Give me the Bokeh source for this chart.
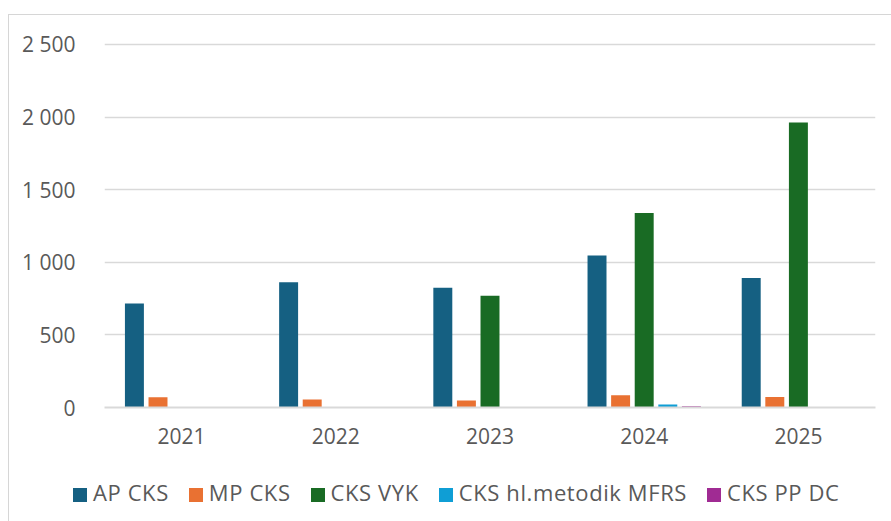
from bokeh.plotting import figure
from bokeh.layouts import column
from bokeh.models import (FactorRange, Range1d, FixedTicker, ColumnDataSource, Div)
from bokeh.transform import dodge
from bokeh.embed import file_html
from bokeh.resources import INLINE

years = ["2021", "2022", "2023", "2024", "2025"]
series_names = ["AP CKS", "MP CKS", "CKS VYK", "CKS hl.metodik MFRS", "CKS PP DC"]
ap_cks = [716, 862, 825, 1047, 892]
mp_cks = [71, 55, 48, 84, 73]
cks_vyk = [0, 0, 769, 1340, 1963]
cks_hl = [0, 0, 0, 21, 0]
cks_pp = [0, 0, 0, 9, 0]
colors = ["#156082", "#E97132", "#196B24", "#0F9ED5", "#A02B93"]
y_ticks = [0, 500, 1000, 1500, 2000, 2500]
y_tick_labels = ["0", "500", "1 000", "1 500", "2 000", "2 500"]

FONT = "Open Sans"
TXT = "#595959"

src = ColumnDataSource(dict(year=years, s0=ap_cks, s1=mp_cks, s2=cks_vyk, s3=cks_hl, s4=cks_pp))

p = figure(width=882, height=435, x_range=FactorRange(factors=years),
           y_range=Range1d(0, 2527.5), output_backend="svg", toolbar_location=None,
           min_border_left=95, min_border_right=16, min_border_top=25, min_border_bottom=43)
p.outline_line_color = None
p.background_fill_color = "white"
p.border_fill_color = "white"

step = 0.153
bw = 0.123
for i, name in enumerate(series_names):
    p.vbar(x=dodge("year", (i - 2) * step, range=p.x_range), top="s%d" % i,
           width=bw, source=src, fill_color=colors[i], line_color=None)

p.xgrid.grid_line_color = None
p.ygrid.grid_line_color = "#d9d9d9"
p.ygrid.grid_line_width = 1.5
p.yaxis.ticker = FixedTicker(ticks=y_ticks)
p.yaxis.major_label_overrides = {t: l for t, l in zip(y_ticks, y_tick_labels)}
p.yaxis.axis_line_color = None
p.yaxis.major_tick_line_color = None
p.yaxis.minor_tick_line_color = None
p.yaxis.major_label_standoff = 23
p.xaxis.axis_line_color = "#d9d9d9"
p.xaxis.axis_line_width = 2
p.xaxis.major_tick_line_color = None
p.xaxis.minor_tick_line_color = None
p.xaxis.major_label_standoff = 14
for ax in (p.xaxis, p.yaxis):
    ax.major_label_text_font = FONT
    ax.major_label_text_font_size = "21px"
    ax.major_label_text_color = TXT

# legend strip (HTML)
items = "".join(
    '<span style="display:inline-block;width:14px;height:14px;background:%s;'
    'margin-right:6px;vertical-align:-1px"></span>'
    '<span style="margin-right:20px">%s</span>' % (c, n)
    for c, n in zip(colors, series_names))
legend_html = ('<div style="padding-left:59px;padding-top:23px;line-height:28px;white-space:nowrap;'
               'letter-spacing:0.6px;font-family:\'Open Sans\';font-size:22px;color:%s">%s</div>'
               % (TXT, items))
lf = Div(text=legend_html, width=882, height=71, styles={"background-color": "white"})

layout = column(p, lf, spacing=0,
                styles={"margin-left": "8px", "margin-top": "14px",
                        "border-left": "1px solid #d6d6d6", "border-top": "1px solid #d6d6d6"})

open("out.html", "w").write(file_html(layout, INLINE))
